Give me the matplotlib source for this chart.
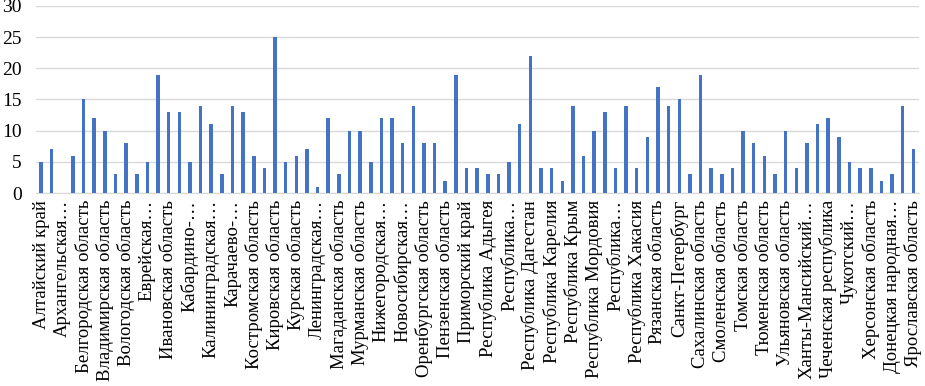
import matplotlib
matplotlib.use("Agg")
import matplotlib.pyplot as plt
import numpy as np

regions = [
    "Алтайский край", "Амурская область",
    "Архангельская…", "Астраханская область",
    "Белгородская область", "Брянская область",
    "Владимирская область", "Волгоградская область",
    "Вологодская область", "Воронежская область",
    "Еврейская…", "Забайкальский край",
    "Ивановская область", "Иркутская область",
    "Кабардино-…", "Калужская область",
    "Калининградская…", "Камчатский край",
    "Карачаево-…", "Кемеровская область",
    "Костромская область", "Краснодарский край",
    "Кировская область", "Красноярский край",
    "Курская область", "Курганская область",
    "Ленинградская…", "Липецкая область",
    "Магаданская область", "Московская область",
    "Мурманская область", "Ненецкий…",
    "Нижегородская…", "Новгородская область",
    "Новосибирская…", "Омская область",
    "Оренбургская область", "Орловская область",
    "Пензенская область", "Пермский край",
    "Приморский край", "Псковская область",
    "Республика Адыгея", "Республика Алтай",
    "Республика…", "Республика Бурятия",
    "Республика Дагестан", "Республика Ингушетия",
    "Республика Карелия", "Республика Коми",
    "Республика Крым", "Республика Марий Эл",
    "Республика Мордовия", "Республика Саха (Якутия)",
    "Республика…", "Республика Татарстан",
    "Республика Хакасия", "Ростовская область",
    "Рязанская область", "Самарская область",
    "Санкт-Петербург", "Саратовская область",
    "Сахалинская область", "Свердловская область",
    "Смоленская область", "Тамбовская область",
    "Томская область", "Тульская область",
    "Тюменская область", "Удмуртская Республика",
    "Ульяновская область", "Хабаровский край",
    "Ханты-Мансийский…", "Челябинская область",
    "Чеченская республика", "Чувашская Республика",
    "Чукотский…", "Запорожская область",
    "Херсонская область", "Луганская народная…",
    "Донецкая народная…", "Ямало-Ненецкий…",
    "Ярославская область",
]

values = [
    5, 7, 0, 6, 15, 12, 10, 3, 8, 3,
    5, 19, 13, 13, 5, 14, 11, 3, 14, 13,
    6, 4, 25, 5, 6, 7, 1, 12, 3, 10,
    10, 5, 12, 12, 8, 14, 8, 8, 2, 19,
    4, 4, 3, 3, 5, 11, 22, 4, 4, 2,
    14, 6, 10, 13, 4, 14, 4, 9, 17, 14,
    15, 3, 19, 4, 3, 4, 10, 8, 6, 3,
    10, 4, 8, 11, 12, 9, 5, 4, 4, 2,
    3, 14, 7,
]

y_ticks = [0, 5, 10, 15, 20, 25, 30]

plt.rcParams["font.family"] = ["Liberation Serif", "DejaVu Serif"]

fig = plt.figure(figsize=(9.25, 3.86), dpi=100)
ax = fig.add_axes([0.0386, 0.5, 0.9545, 0.4845])

x = np.arange(len(values))
ax.bar(x, values, width=0.33, color="#4472C4", zorder=3)

ax.set_xlim(-0.5, len(values) - 0.5)
ax.set_ylim(0, 30)
ax.set_yticks(y_ticks)
ax.set_yticklabels([str(t) for t in y_ticks], fontsize=14, color="#000000")
ax.yaxis.grid(True, color="#D9D9D9", linewidth=1, zorder=0)
ax.tick_params(axis="y", length=0, pad=10)

ax.set_xticks(x[::2])
ax.set_xticklabels(regions[::2], rotation=90, fontsize=13.5, color="#000000",
                   va="top", ha="center")
ax.tick_params(axis="x", length=0, pad=5)

for s in ["top", "right", "left"]:
    ax.spines[s].set_visible(False)
ax.spines["bottom"].set_color("#D9D9D9")

fig.savefig("out.png", dpi=100)
